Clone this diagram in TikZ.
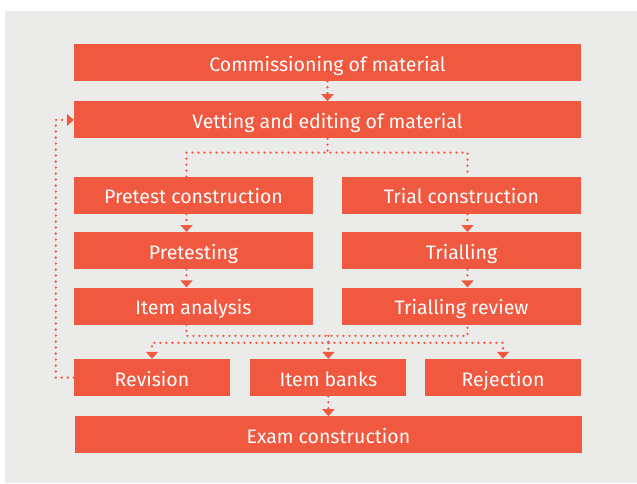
\documentclass[tikz,border=0pt]{standalone}
\usepackage{fontspec}
\setmainfont{Fira Sans}
\usepackage{xcolor}
\usetikzlibrary{positioning,arrows.meta}
\definecolor{boxred}{RGB}{240,88,64}
\definecolor{panelgrey}{RGB}{235,235,233}
\tikzstyle{stage} = [rectangle, fill=boxred, text=white, minimum height=37pt, inner sep=0pt, text height=17pt, text depth=0pt, font=\fontsize{19.5}{22}\selectfont]
\tikzstyle{full} = [stage, minimum width=507pt]
\tikzstyle{half} = [stage, minimum width=239pt]
\tikzstyle{third} = [stage, minimum width=156pt]
\tikzstyle{flow} = [draw=boxred, line width=2.6pt, dash pattern=on 0pt off 6pt, line cap=round]
\tikzstyle{flowto} = [flow, -{Triangle[width=12pt,length=7pt]}]

\begin{document}
\begin{tikzpicture}
\useasboundingbox (0,0) rectangle (637pt,-483pt);
\fill[panelgrey] (5pt,-11pt) rectangle (637pt,-483pt);
\node(comm)[full] at (327.5pt,-62.5pt) {Commissioning of material};
\node(vet)[full, below=20pt of comm] {Vetting and editing of material};
\node(pre)[half, below=38pt of vet.south west, anchor=north west] {Pretest construction};
\node(tri)[half, below=38pt of vet.south east, anchor=north east] {Trial construction};
\node(pting)[half, below=18pt of pre] {Pretesting};
\node(ana)[half, below=18pt of pting] {Item analysis};
\node(tring)[half, below=18pt of tri] {Trialling};
\node(trrev)[half, below=18pt of tring] {Trialling review};
\node(rev)[third, below=34pt of ana.south west, anchor=north west] {Revision};
\node(bank)[third, right=20pt of rev] {Item banks};
\node(rej)[third, below=34pt of trrev.south east, anchor=north east] {Rejection};
\node(exam)[full, below=20pt of bank] {Exam construction};
\coordinate(split) at ([yshift=-14pt]vet.south);
\coordinate(merge) at ([yshift=-11pt]ana.south -| bank);
\coordinate(fan) at ([yshift=-7pt]merge);
\coordinate(back) at ([xshift=-18pt]rev.west);
\draw[flowto] (comm) -- (vet);
\draw[flow] (vet.south) -- (split);
\draw[flow] ([xshift=-7pt]pre.north) |- (split) -| ([xshift=6pt]tri.north);
\draw[flowto] ([xshift=-7pt]pre.south) -- ([xshift=-7pt]pting.north);
\draw[flowto] ([xshift=-7pt]pting.south) -- ([xshift=-7pt]ana.north);
\draw[flowto] ([xshift=6pt]tri.south) -- ([xshift=6pt]tring.north);
\draw[flowto] ([xshift=6pt]tring.south) -- ([xshift=6pt]trrev.north);
\draw[flow] ([xshift=-7pt]ana.south) |- (merge) -| ([xshift=6pt]trrev.south);
\draw[flow] (merge) -- (fan);
\draw[flowto] (fan) -| (rev.north);
\draw[flowto] (fan) -- (bank);
\draw[flowto] (fan) -| (rej.north);
\draw[flowto] (bank) -- (exam);
\draw[flowto] (rev.west) -- (back) |- (vet.west);
\end{tikzpicture}
\end{document}
